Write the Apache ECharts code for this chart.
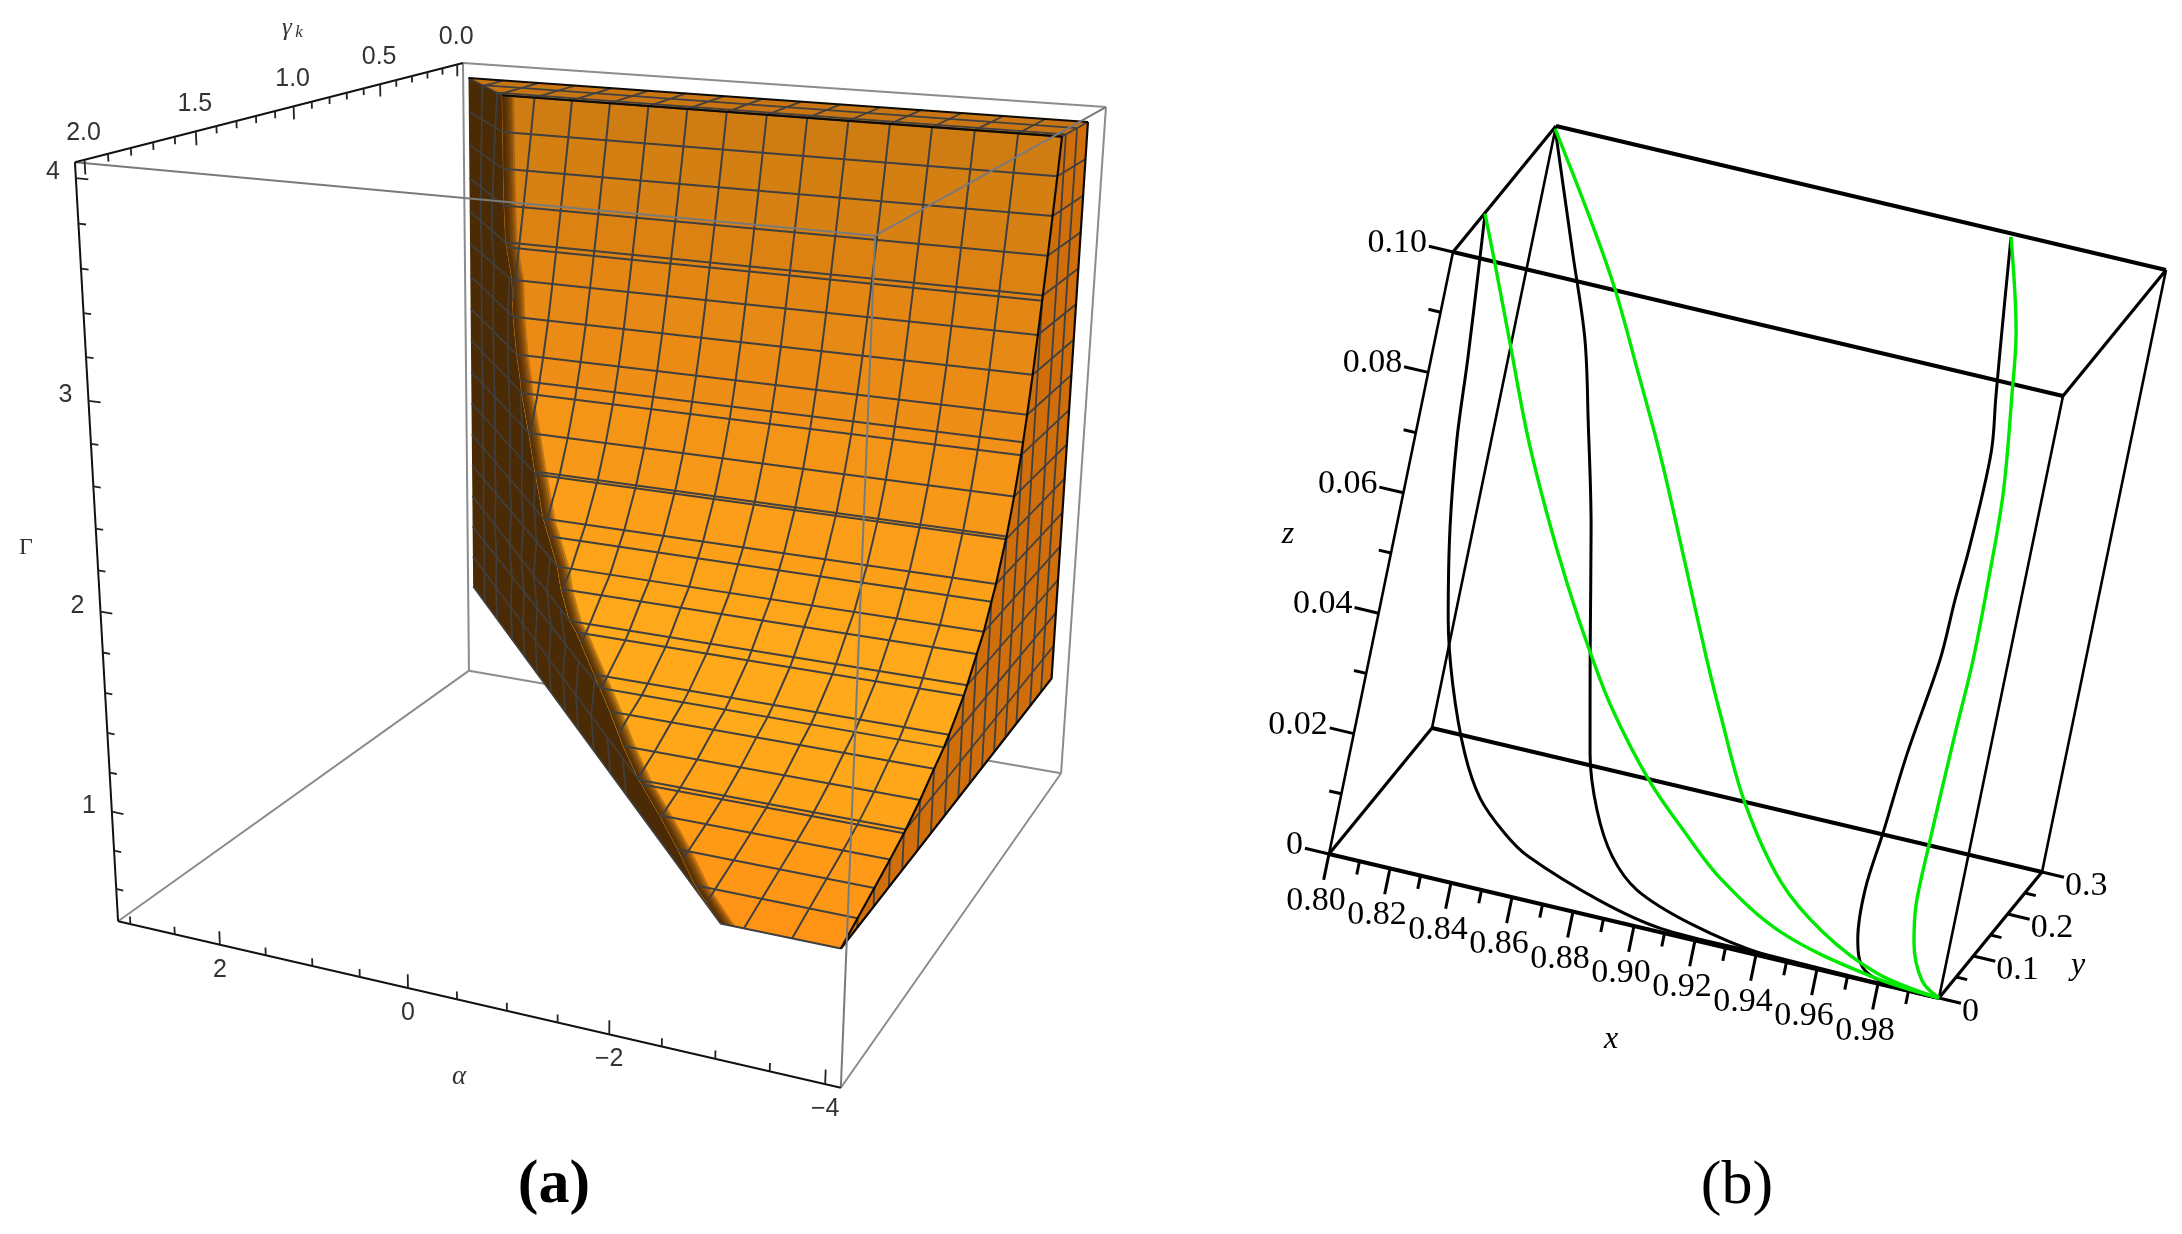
<!DOCTYPE html>
<html>
<head>
<meta charset="utf-8">
<script src="https://cdn.jsdelivr.net/npm/echarts@6/dist/echarts.min.js"></script>
<style>html,body{margin:0;background:#fff}#main{width:2182px;height:1234px}</style>
</head>
<body>
<div id="main"></div>
<script>
// panel (a): mesh rows of the region boundary, top to bottom
var rowGamma = [.292,.317,.343,.370,.398,.402,.427,.457,.492,.519,.532,.582,.638,.644,.722,.76,.822,.882,.962,.99,1.115,1.157,1.24,1.355,1.47,1.485,1.595,1.715,1.84,1.96];
var rowCap = [4,3.8125,3.625,3.4375,3.25,3.225,3.0625,2.875,2.6875,2.56,2.5,2.3125,2.137,2.125,1.9375,1.868,1.75,1.672,1.5625,1.527,1.41,1.375,1.325,1.25,1.1875,1.18,1.135,1.09,1.045,1];
var rowAlphaLeft = [2.07,2.02,1.97,1.915,1.85,1.83,1.725,1.66,1.56,1.47,1.435,1.265,1.10,1.08,.86,.735,.53,.39,.16,.04,-.36,-.49,-.73,-1.05,-1.39,-1.44,-1.79,-2.15,-2.50,-2.91];
var rowKind = ['c','c','c','c','c','g','c','c','c','g','c','c','g','c','c','g','c','g','c','g','g','c','g','g','c','g','g','g','g','c'];
var alphaColumns = [2.5625,2.125,1.6875,1.25,.8125,.375,-.0625,-.5,-.9375,-1.375,-1.8125,-2.25,-2.6875,-3.125,-3.5625];
var topGammaLines = [.125,.25];
var alphaRange = [-4.14,3.14], gammaRange = [-.04,2.04], capRange = [.43,4.07];
var alphaTicks = [2,0,-2,-4], alphaMinor = [3,2.5,1.5,1,.5,-.5,-1,-1.5,-2.5,-3,-3.5];
var alphaLabels = ['2','0','\u22122','\u22124'];
var gammaTicks = [0,.5,1,1.5,2], gammaMinor = [.1,.2,.3,.4,.6,.7,.8,.9,1.1,1.2,1.3,1.4,1.6,1.7,1.8,1.9];
var gammaLabels = ['0.0','0.5','1.0','1.5','2.0'];
var capTicks = [1,2,3,4], capMinor = [.6,.8,1.2,1.4,1.6,1.8,2.2,2.4,2.6,2.8,3.2,3.4,3.6,3.8];

// panel (b): solution curves, all ending in (1,0,0)
var black1X = [.8000,.8017,.8056,.8083,.8129,.8191,.8257,.8346,.8427,.8527,.8619,.8876,.9087,.9406,.9796,1];
var black1Y = [.094,.088,.073,.062,.049,.037,.027,.018,.013,.009,.006,.0026,0,0,0,0];
var black1Z = [.0998,.0933,.0781,.0656,.0523,.0389,.0292,.0195,.0134,.0092,.0066,.0025,.0006,.0004,.0001,0];
var black2X = [.8000,.8174,.8291,.8379,.8490,.8606,.8702,.8777,.8866,.8975,.9172,.9421,.9796,1];
var black2Y = [.299,.252,.221,.190,.149,.101,.062,.041,.025,.014,.006,.001,0,0];
var black2Z = [.0996,.0841,.0736,.0632,.0496,.0336,.0207,.0137,.0083,.0047,.0020,.0003,0,0];
var black3X = [.9495,.9558,.9601,.9640,.9664,.9670,.9681,.9670,.9672,.9671,.9696,.9747,.9876,1];
var black3Y = [.299,.261,.236,.214,.176,.154,.130,.091,.058,.035,.015,.004,0,0];
var black3Z = [.0995,.0871,.0787,.0713,.0588,.0514,.0433,.0303,.0194,.0116,.0051,.0013,.0001,0];
var green1X = [.8000,.8069,.8175,.8301,.8414,.8532,.8646,.8767,.8936,.9088,.9234,.9460,.9763,1];
var green1Y = [.094,.087,.077,.064,.055,.045,.037,.029,.021,.015,.009,.004,.001,0];
var green1Z = [.0998,.0928,.0816,.0685,.0581,.0484,.0397,.0314,.0220,.0155,.0100,.0042,.0009,0];
var green2X = [.8000,.8197,.8335,.8478,.8636,.8811,.8964,.9066,.9222,.9407,.9583,.9787,1];
var green2Y = [.299,.267,.243,.214,.182,.144,.110,.088,.057,.030,.015,.004,0];
var green2Z = [.0996,.0889,.0809,.0715,.0608,.0479,.0366,.0295,.0191,.0101,.0049,.0013,0];
var green3X = [.9495,.9601,.9647,.9715,.9754,.9782,.9798,.9824,.9841,.9871,.9932,1];
var green3Y = [.299,.263,.239,.200,.164,.133,.102,.057,.034,.019,.005,0];
var green3Z = [.0995,.0875,.0796,.0665,.0547,.0443,.0341,.0189,.0112,.0063,.0017,0];
var xTicks = [.80,.82,.84,.86,.88,.90,.92,.94,.96,.98], xMinor = [.81,.83,.85,.87,.89,.91,.93,.95,.97,.99];
var yTicks = [0,.1,.2,.3], yMinor = [.05,.15,.25];
var zTicks = [0,.02,.04,.06,.08,.10], zMinor = [.01,.03,.05,.07,.09];

// 投影：三维数值 -> 画布平面坐标
var cameraA = [-70.3305548,-187.175774,-11.2679064,704.358069,-4.41630916,28.9567955,-174.373836,785.277222,.0131818931,-.104142344,-.0206702850,1];
var cameraB = [3050,343.33,1240,-1111,720,-420,-6020,278,0,0,0,1];
function project(m, a, b, c) {
    var w = m[8]*a + m[9]*b + m[10]*c + m[11];
    return [(m[0]*a + m[1]*b + m[2]*c + m[3])/w, (m[4]*a + m[5]*b + m[6]*c + m[7])/w];
}
function pa(alpha, gamma, cap) { return project(cameraA, alpha, gamma, cap); }
function pb(x, y, z) { return project(cameraB, x, y, z); }

var backShapes = [], solidShapes = [], frontShapes = [], labels = [];
function line(list, pts, stroke, width) { list.push({pts: pts, stroke: stroke, width: width}); }
function label(at, dx, dy, text, font, color, align) { labels.push({at: at, dx: dx, dy: dy, text: text, font: font, color: color, align: align || 'center'}); }

// ---------- (a) box
var aMin = alphaRange[0], aMax = alphaRange[1], gMin = gammaRange[0], gMax = gammaRange[1], cMin = capRange[0], cMax = capRange[1];
var grey = '#8c8c8c';
[[aMax,gMin,cMin,aMax,gMin,cMax],[aMin,gMin,cMin,aMin,gMin,cMax],[aMax,gMin,cMax,aMin,gMin,cMax],[aMax,gMin,cMin,aMin,gMin,cMin],[aMax,gMin,cMin,aMax,gMax,cMin],[aMin,gMin,cMin,aMin,gMax,cMin]].forEach(function (e) {
    line(backShapes, [pa(e[0],e[1],e[2]), pa(e[3],e[4],e[5])], grey, 2);
});
[[aMax,gMax,cMax,aMin,gMax,cMax],[aMin,gMax,cMax,aMin,gMin,cMax],[aMin,gMax,cMax,aMin,gMax,cMin]].forEach(function (e) {
    line(frontShapes, [pa(e[0],e[1],e[2]), pa(e[3],e[4],e[5])], '#7a7a7a', 2);
});
[[aMax,gMax,cMax,aMax,gMax,cMin],[aMax,gMax,cMin,aMin,gMax,cMin],[aMax,gMax,cMax,aMax,gMin,cMax]].forEach(function (e) {
    line(frontShapes, [pa(e[0],e[1],e[2]), pa(e[3],e[4],e[5])], '#111', 2);
});

// ---------- (a) solid
var last = rowCap.length - 1, mesh = '#404040', capLow = rowCap[last], capTop = rowCap[0], backAlpha = 3, rightAlpha = -4;
var shadeStops = [[0,'#cf7d12'],[4,'#df8313'],[8,'#ef8e16'],[12,'#fb9b18'],[17,'#ffa81b'],[21,'#ffaa1a'],[24,'#ffa018'],[27,'#ff9716'],[29,'#ff8f13']];
function shade(i) {
    for (var s = 1; s < shadeStops.length; s++) {
        if (i <= shadeStops[s][0]) {
            return echarts.color.lerp((i - shadeStops[s-1][0])/(shadeStops[s][0] - shadeStops[s-1][0]), [shadeStops[s-1][1], shadeStops[s][1]]);
        }
    }
}
// 顶面
solidShapes.push({pts: [pa(backAlpha,0,capTop), pa(rightAlpha,0,capTop), pa(rightAlpha,rowGamma[0],capTop), pa(rowAlphaLeft[0],rowGamma[0],capTop)], fill: '#c97512'});
// 右侧面
var rightPts = [pa(rightAlpha,0,capTop)];
rowCap.forEach(function (c, i) { rightPts.push(pa(rightAlpha,rowGamma[i],c)); });
rightPts.push(pa(rightAlpha,0,capLow));
solidShapes.push({pts: rightPts, fill: '#cf6e0b'});
// 左侧暗面
var darkPts = [pa(backAlpha,0,capTop)];
rowCap.forEach(function (c, i) { darkPts.push(pa(rowAlphaLeft[i],rowGamma[i],c)); });
darkPts.push(pa(backAlpha,0,capLow));
solidShapes.push({pts: darkPts, fill: '#4a2b06'});
// 主曲面
for (var i = 0; i < last; i++) {
    var col = shade(i);
    solidShapes.push({pts: [pa(rowAlphaLeft[i],rowGamma[i],rowCap[i]), pa(rightAlpha,rowGamma[i],rowCap[i]), pa(rightAlpha,rowGamma[i+1],rowCap[i+1]), pa(rowAlphaLeft[i+1],rowGamma[i+1],rowCap[i+1])], fill: col, stroke: col, width: 1});
}
// 暗面与主曲面之间的柔和过渡：沿 alpha 方向叠几层半透明带
[.14,.115,.09,.065,.045,.025].forEach(function (d) {
    var band = [];
    rowCap.forEach(function (c, i) { band.push(pa(rowAlphaLeft[i],rowGamma[i],c)); });
    for (var i = last; i >= 0; i--) band.push(pa(rowAlphaLeft[i]-d,rowGamma[i],rowCap[i]));
    solidShapes.push({pts: band, fill: 'rgba(66,36,5,0.3)'});
});

// 网格线
function darkGammaLine(g) {
    var pts = [];
    for (var i = last; i >= 0; i--) {
        if (rowKind[i] === 'c' && rowGamma[i] >= g) pts.push(pa(backAlpha + (rowAlphaLeft[i]-backAlpha)*g/rowGamma[i], g, rowCap[i]));
    }
    return pts;
}
rowCap.forEach(function (c, i) {
    var g = rowGamma[i];
    line(solidShapes, [pa(rowAlphaLeft[i],g,c), pa(rightAlpha,g,c)], mesh, 2);
    if (rowKind[i] === 'c') {
        line(solidShapes, [pa(rightAlpha,0,c), pa(rightAlpha,g,c)], mesh, 1.8);
        line(solidShapes, [pa(backAlpha,0,c), pa(rowAlphaLeft[i],g,c)], mesh, 1.6);
    } else {
        line(solidShapes, [pa(rightAlpha,g,capLow), pa(rightAlpha,g,c)], mesh, 1.8);
        line(solidShapes, darkGammaLine(g), mesh, 1.6);
    }
});
topGammaLines.forEach(function (g) {
    line(solidShapes, [pa(rightAlpha,g,capLow), pa(rightAlpha,g,capTop)], mesh, 1.8);
    line(solidShapes, darkGammaLine(g), mesh, 1.6);
    line(solidShapes, [pa(backAlpha + (rowAlphaLeft[0]-backAlpha)*g/rowGamma[0],g,capTop), pa(rightAlpha,g,capTop)], mesh, 1.8);
});
alphaColumns.forEach(function (a) {
    // 顶面上的一段
    var gEnd = a > rowAlphaLeft[0] ? rowGamma[0]*(backAlpha-a)/(backAlpha-rowAlphaLeft[0]) : rowGamma[0];
    line(solidShapes, [pa(a,0,capTop), pa(a,gEnd,capTop)], mesh, 1.8);
    var pts = [];
    for (var i = 0; i <= last && rowAlphaLeft[i] >= a; i++) {
        pts.push(pa(a,rowGamma[i],rowCap[i]));
        if (i < last && rowAlphaLeft[i+1] < a) {
            var t = (rowAlphaLeft[i]-a)/(rowAlphaLeft[i]-rowAlphaLeft[i+1]);
            pts.push(pa(a,rowGamma[i]+t*(rowGamma[i+1]-rowGamma[i]),rowCap[i]+t*(rowCap[i+1]-rowCap[i])));
        }
    }
    if (pts.length > 1) line(solidShapes, pts, mesh, 2);
});
// 黑色外轮廓
line(solidShapes, rowCap.map(function (c, i) { return pa(rightAlpha,rowGamma[i],c); }), '#0d0a05', 2.2);
line(solidShapes, [pa(rightAlpha,0,capTop), pa(rightAlpha,0,capLow), pa(rightAlpha,rowGamma[last],capLow)], '#0d0a05', 2.2);
line(solidShapes, [pa(backAlpha,0,capTop), pa(rightAlpha,0,capTop)], '#0d0a05', 2);
line(solidShapes, [pa(rowAlphaLeft[0],rowGamma[0],capTop), pa(rightAlpha,rowGamma[0],capTop)], '#0d0a05', 2.2);

// ---------- (a) ticks and labels
var fontA = '25px "Liberation Sans"', axisDark = '#333';
function capTick(c, len) { line(frontShapes, [pa(aMax,gMax,c), pa(aMax-len,gMax,c)], '#222', 1.8); }
function alphaTick(a, len) { line(frontShapes, [pa(a,gMax,cMin), pa(a,gMax,cMin+len)], '#222', 1.8); }
function gammaTick(g, len) { line(frontShapes, [pa(aMax,g,cMax), pa(aMax,g,cMax-len)], '#222', 1.8); }
capTicks.forEach(function (c) { capTick(c,.13); label(pa(aMax,gMax,c),-23,-6,String(c),fontA,axisDark); });
capMinor.forEach(function (c) { capTick(c,.08); });
alphaTicks.forEach(function (a, i) { alphaTick(a,.07); label(pa(a,gMax,cMin),0,25,alphaLabels[i],fontA,axisDark); });
alphaMinor.forEach(function (a) { alphaTick(a,.04); });
gammaTicks.forEach(function (g, i) { gammaTick(g,.065); label(pa(aMax,g,cMax),-1,-27,gammaLabels[i],fontA,axisDark); });
gammaMinor.forEach(function (g) { gammaTick(g,.035); });
label([287,28],0,0,'\u03b3','italic 25px "Liberation Serif"',axisDark);
label([299,33],0,0,'k','italic 17px "Liberation Serif"',axisDark);
label([26,548],0,0,'\u0393','24px "Liberation Serif"',axisDark);
label([459,1077],0,0,'\u03b1','italic 27px "Liberation Serif"',axisDark);
label([554,1186],0,0,'(a)','bold 62px "Liberation Serif"','#000');

// ---------- (b) box
var boxX = [.8,1], boxY = [0,.3], boxZ = [0,.1], bShapes = [];
boxY.forEach(function (y) { boxZ.forEach(function (z) { line(bShapes, [pb(boxX[0],y,z), pb(boxX[1],y,z)], '#000', 4); }); });
boxX.forEach(function (x) { boxZ.forEach(function (z) { line(bShapes, [pb(x,boxY[0],z), pb(x,boxY[1],z)], '#000', 3.2); }); });
boxX.forEach(function (x) { boxY.forEach(function (y) { line(bShapes, [pb(x,y,boxZ[0]), pb(x,y,boxZ[1])], '#000', 2.6); }); });
var fontB = '34px "Liberation Serif"';
function twoDec(v) { return v.toFixed(2); }
xTicks.forEach(function (x) { line(bShapes, [pb(x,0,0), pb(x,0,-.0043)], '#000', 3); label(pb(x,0,0),-13,47,twoDec(x),fontB,'#000'); });
xMinor.forEach(function (x) { line(bShapes, [pb(x,0,0), pb(x,0,-.0022)], '#000', 3); });
zTicks.forEach(function (z) { line(bShapes, [pb(.8,0,z), pb(.7921,0,z)], '#000', 3); label(pb(.8,0,z),-26,-9,z === 0 ? '0' : twoDec(z),fontB,'#000','right'); });
zMinor.forEach(function (z) { line(bShapes, [pb(.8,0,z), pb(.796,0,z)], '#000', 3); });
yTicks.forEach(function (y) { line(bShapes, [pb(1,y,0), pb(1.0072,y,0)], '#000', 3); label(pb(1,y,0),23,14,y === 0 ? '0' : y.toFixed(1),fontB,'#000','left'); });
yMinor.forEach(function (y) { line(bShapes, [pb(1,y,0), pb(1.0036,y,0)], '#000', 3); });
label([1288,535],0,0,'z','italic 32px "Liberation Serif"','#000');
label([1611,1040],0,0,'x','italic 32px "Liberation Serif"','#000');
label([2078,966],0,0,'y','italic 32px "Liberation Serif"','#000');
label([1737,1187],0,0,'(b)','62px "Liberation Serif"','#000');

// 曲线走 line 系列
function curveSeries(name, xs, ys, zs, color, width) {
    return {
        name: name, type: 'line', coordinateSystem: 'cartesian2d', showSymbol: false, smooth: 0.35, silent: true, z: 6,
        lineStyle: {color: color, width: width},
        data: xs.map(function (x, i) { return pb(x, ys[i], zs[i]); })
    };
}
function shapeSeries(name, shapes, z) {
    return {
        name: name, type: 'custom', coordinateSystem: 'cartesian2d', silent: true, z: z, clip: false,
        data: shapes.map(function (s) { return s.pts[0]; }),
        renderItem: function (params, api) {
            var s = shapes[params.dataIndex];
            return {
                type: s.fill ? 'polygon' : 'polyline',
                shape: {points: s.pts.map(function (p) { return api.coord(p); })},
                style: {fill: s.fill || null, stroke: s.stroke || null, lineWidth: s.width || 0, lineJoin: 'round'}
            };
        }
    };
}
function labelSeries(items) {
    return {
        name: 'labels', type: 'custom', coordinateSystem: 'cartesian2d', silent: true, z: 8, clip: false,
        data: items.map(function (l) { return l.at; }),
        renderItem: function (params, api) {
            var l = items[params.dataIndex], c = api.coord(l.at);
            return {type: 'text', x: c[0] + l.dx, y: c[1] + l.dy, style: {text: l.text, font: l.font, fill: l.color, align: l.align, verticalAlign: 'middle'}};
        }
    };
}

var my_chart = echarts.init(document.getElementById('main'), null, {renderer: 'canvas'});
my_chart.setOption({
    animation: false,
    backgroundColor: '#fff',
    grid: {left: 0, right: 0, top: 0, bottom: 0},
    xAxis: {type: 'value', min: 0, max: 2182, show: false},
    yAxis: {type: 'value', min: 0, max: 1234, inverse: true, show: false},
    series: [
        shapeSeries('box back', backShapes, 1),
        shapeSeries('solid', solidShapes, 2),
        shapeSeries('box front', frontShapes, 3),
        shapeSeries('box b', bShapes, 4),
        curveSeries('black 1', black1X, black1Y, black1Z, '#000', 3),
        curveSeries('black 2', black2X, black2Y, black2Z, '#000', 3),
        curveSeries('black 3', black3X, black3Y, black3Z, '#000', 3),
        curveSeries('green 1', green1X, green1Y, green1Z, '#00e800', 3.4),
        curveSeries('green 2', green2X, green2Y, green2Z, '#00e800', 3.4),
        curveSeries('green 3', green3X, green3Y, green3Z, '#00e800', 3.4),
        labelSeries(labels)
    ]
});
</script>
</body>
</html>
